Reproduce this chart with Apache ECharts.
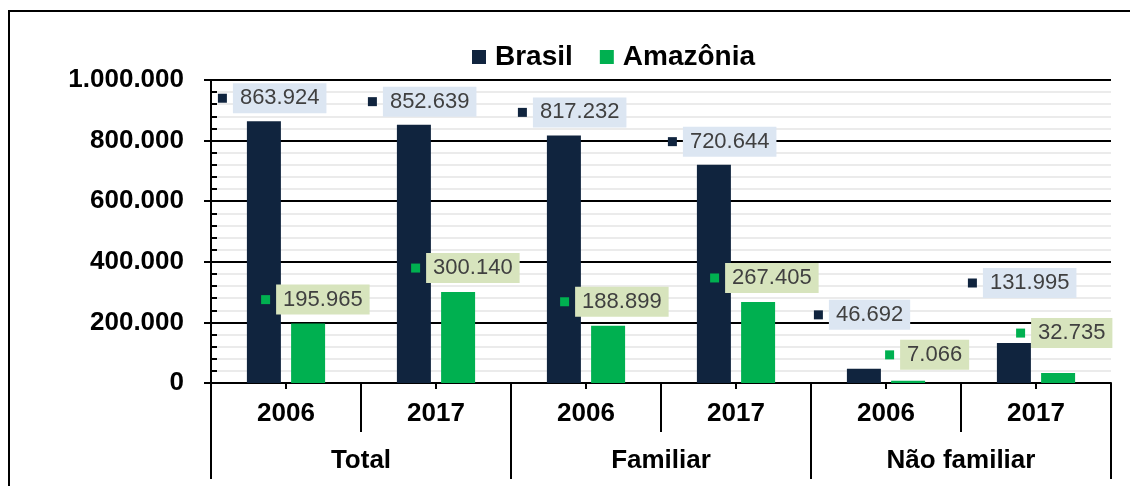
<!DOCTYPE html>
<html>
<head>
<meta charset="utf-8">
<script src="https://cdn.jsdelivr.net/npm/echarts@6/dist/echarts.min.js"></script>
<style>
  html, body { margin: 0; padding: 0; background: #fff; }
  #chart { width: 1130px; height: 486px; }
</style>
</head>
<body>
<div id="chart"></div>
<script>
// data
const groups = ['Total', 'Familiar', 'Não familiar']
const years = ['2006', '2017', '2006', '2017', '2006', '2017']
const brasil = [863924, 852639, 817232, 720644, 46692, 131995]
const amazonia = [195965, 300140, 188899, 267405, 7066, 32735]

const navy = '#10243E', green = '#00B050'
const font = 'Liberation Sans, Arial, sans-serif'

// label placement (offset from bar top-left), Excel labels were moved by hand
const defPos = [-29, -23]
const brasilPos = { 4: [-33, -54], 5: [-29, -60] }
const amazPos = { 0: [-30, -24], 1: [-30, -24], 2: [-31, -24], 3: [-31, -24], 4: [-6, -26], 5: [-25, -40] }

function thousandSeparator(num) {
  return num.toString().replace(/\B(?=(\d{3})+(?!\d))/g, '.')
}

function labelCfg(color, bg) {
  return {
    show: true,
    align: 'left',
    verticalAlign: 'middle',
    formatter: p => `{m| }{s| }{v|${thousandSeparator(p.value)}}`,
    rich: {
      m: { width: 9, height: 9, backgroundColor: color, fontSize: 9 },
      s: { width: 6, fontSize: 9 },
      v: { fontFamily: font, fontSize: 22, lineHeight: 22, color: '#404040', backgroundColor: bg, padding: [4, 7, 4, 7] }
    }
  }
}

function buildData(values, over) {
  return values.map((v, i) => ({ value: v, label: { position: over[i] || defPos } }))
}

var chart = echarts.init(document.getElementById('chart'))
var option = {
  animation: false,
  textStyle: { fontFamily: font },
  graphic: [{
    type: 'rect', silent: true, z: 100,
    shape: { x: 9, y: 11, width: 1300, height: 600 },
    style: { fill: 'none', stroke: '#000', lineWidth: 2 }
  }],
  legend: {
    left: 467, top: 38,
    itemWidth: 14, itemHeight: 14, itemGap: 27,
    icon: 'rect',
    textStyle: { fontFamily: font, fontSize: 28, fontWeight: 'bold', color: '#000', padding: [0, 0, 0, 4] },
    data: ['Brasil', 'Amazônia']
  },
  grid: { left: 211, right: 19, top: 80, bottom: 103, containLabel: false, outerBoundsMode: 'none' },
  xAxis: [
    {
      type: 'category', data: years, position: 'bottom',
      axisLine: { show: true, lineStyle: { color: '#000', width: 2 } },
      axisTick: { show: true, alignWithLabel: true, length: 6, lineStyle: { color: '#000', width: 2 } },
      axisLabel: { margin: 18, fontFamily: font, fontSize: 26, fontWeight: 'bold', color: '#000', interval: 0 },
      splitLine: { show: false }
    },
    {
      type: 'category', data: years, position: 'bottom', offset: 0,
      axisLine: { show: false },
      axisTick: { show: true, interval: 0, length: 49, lineStyle: { color: '#000', width: 2 } },
      axisLabel: { show: false },
      splitLine: { show: false }
    },
    {
      type: 'category', data: groups, position: 'bottom', offset: 0,
      axisLine: { show: false },
      axisTick: { show: true, interval: 0, length: 96, lineStyle: { color: '#000', width: 2 } },
      axisLabel: { margin: 65, fontFamily: font, fontSize: 26, fontWeight: 'bold', color: '#000', interval: 0 },
      splitLine: { show: false }
    }
  ],
  yAxis: [
    {
      type: 'value', min: 0, max: 1000000, interval: 200000,
      axisLine: { show: true, lineStyle: { color: '#000', width: 2 } },
      axisTick: { show: true, length: 7, lineStyle: { color: '#000', width: 2 } },
      axisLabel: { margin: 27, fontFamily: font, fontSize: 26, fontWeight: 'bold', color: '#000', formatter: v => thousandSeparator(v) },
      splitLine: { show: true, lineStyle: { color: '#000', width: 2 } },
      minorTick: { show: false, splitNumber: 5 },
      minorSplitLine: { show: true, lineStyle: { color: '#ebebeb', width: 2 } }
    },
    {
      type: 'value', min: 0, max: 1000000, interval: 40000, position: 'left', offset: 0,
      axisLine: { show: false },
      axisTick: { show: true, inside: true, length: 6, lineStyle: { color: '#000', width: 2 } },
      axisLabel: { show: false },
      splitLine: { show: false }
    }
  ],
  series: [
    {
      name: 'Brasil', type: 'bar', xAxisIndex: 0, yAxisIndex: 0,
      barWidth: 34, barGap: '30%',
      itemStyle: { color: navy },
      label: labelCfg(navy, '#DCE6F2'),
      data: buildData(brasil, brasilPos)
    },
    {
      name: 'Amazônia', type: 'bar', xAxisIndex: 0, yAxisIndex: 0,
      barWidth: 34,
      itemStyle: { color: green },
      label: labelCfg(green, '#D7E4BD'),
      data: buildData(amazonia, amazPos)
    }
  ]
}
chart.setOption(option)
</script>
</body>
</html>
